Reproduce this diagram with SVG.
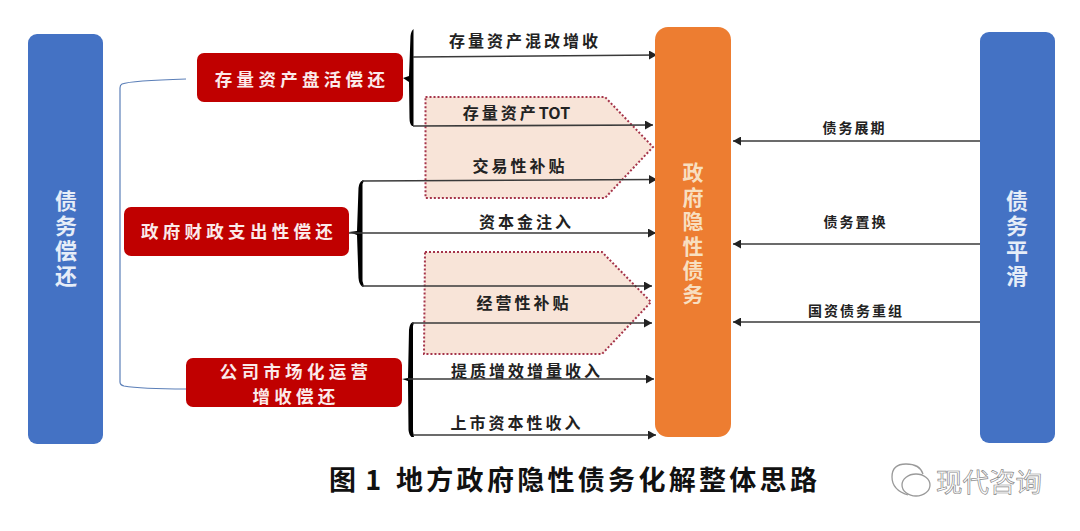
<svg xmlns="http://www.w3.org/2000/svg" width="1080" height="531" viewBox="0 0 1080 531">
<style>
text{font-family:"Noto Sans CJK SC","Noto Sans",sans-serif;font-weight:700}
.blue{fill:#4472c4}
.red{fill:#c00000}
.pent{fill:#f8e4d8;stroke:#a5344a;stroke-width:2;stroke-dasharray:2 2}
.wv{font-size:21px;fill:#f8dfc0;writing-mode:vertical-rl;letter-spacing:3.400px}
.wb{font-size:22px;fill:#e6edf8;writing-mode:vertical-rl;letter-spacing:2.800px}
.wr{font-size:17.500px;fill:#fbeaea;text-anchor:middle;letter-spacing:4.300px}
.lab{font-size:16px;fill:#222;text-anchor:middle;letter-spacing:3px}
.lab2{font-size:14px;fill:#222;text-anchor:middle;letter-spacing:2px}
.ln{stroke:#3a3a3a;stroke-width:1.6;fill:none;marker-end:url(#ah)}
.br{fill:#000;stroke:none}
</style>
<defs>
<marker id="ah" markerUnits="userSpaceOnUse" markerWidth="9" markerHeight="9" refX="8" refY="4.500" orient="auto"><path d="M0 0L8 4.500L0 9Z" fill="#222"/></marker>
</defs>
<rect width="1080" height="531" fill="#fff"/>
<g id="pentagons">
<path class="pent" d="M425.500 97H605L653 147L605 198H425.500Z"/>
<path class="pent" d="M425 252H602L651 302L602 354H424Z"/>
</g>
<g id="connectors">
<path d="M186 79C150 80 130 81 122 84Q120 85 120 88V382Q120 385 124 386C135 388 160 389 186 389" fill="none" stroke="#5b7fb8" stroke-width="1.200"/>
<path class="br" d="M403 78L409 76L410.500 36Q411 31 413.500 29V126H412Q409.500 124 409.500 118L409 82Z"/>
<path class="br" d="M349 232L357 231L358.500 188Q359 182 362.500 180.500H364L362.500 184V281L364 286.500H362Q359 284 358.500 278L357 235Z"/>
<path class="br" d="M402 379L408 378L409 330Q409.500 324 412 322.500H414L413 326V431L414 437H411.500Q409 435 408.500 430L408 381Z"/>
<path class="ln" d="M413 57L657 55"/>
<path class="ln" d="M413 126L653 125"/>
<path class="ln" d="M362 181L657 179.500"/>
<path class="ln" d="M349 233H656"/>
<path class="ln" d="M362 286H652"/>
<path class="ln" d="M412 323H652"/>
<path class="ln" d="M408 379H654"/>
<path class="ln" d="M413 435H656"/>
<path class="ln" d="M980 141H733"/>
<path class="ln" d="M980 244H733"/>
<path class="ln" d="M980 322H733"/>
</g>
<g id="node-left">
<rect class="blue" x="28" y="34" width="75" height="410" rx="9"/>
<text class="wb" x="66" y="190">债务偿还</text>
</g>
<g id="node-right">
<rect class="blue" x="980" y="32" width="75" height="411" rx="9"/>
<text class="wb" x="1017" y="190">债务平滑</text>
</g>
<g id="node-center">
<rect x="655" y="27" width="76" height="410" rx="13" fill="#ed7d31"/>
<text class="wv" x="693" y="162">政府隐性债务</text>
</g>
<g id="node-r1">
<rect class="red" x="197" y="53" width="206" height="49" rx="7"/>
<text class="wr" x="302" y="86">存量资产盘活偿还</text>
</g>
<g id="node-r2">
<rect class="red" x="124" y="207" width="225" height="49" rx="7"/>
<text class="wr" x="239" y="238">政府财政支出性偿还</text>
</g>
<g id="node-r3">
<rect class="red" x="186" y="358" width="216" height="49" rx="7"/>
<text class="wr" x="296" y="378">公司市场化运营</text>
<text class="wr" x="296" y="403">增收偿还</text>
</g>
<g id="labels">
<text class="lab" x="525" y="47">存量资产混改增收</text>
<text class="lab" x="516.500" y="119">存量资产<tspan letter-spacing="0">TOT</tspan></text>
<text class="lab" x="520" y="172">交易性补贴</text>
<text class="lab" x="526.500" y="228">资本金注入</text>
<text class="lab" x="524" y="309">经营性补贴</text>
<text class="lab" x="527" y="377">提质增效增量收入</text>
<text class="lab" x="517" y="429">上市资本性收入</text>
<text class="lab2" x="854.500" y="133">债务展期</text>
<text class="lab2" x="855.500" y="227">债务置换</text>
<text class="lab2" x="856" y="316">国资债务重组</text>
</g>
<g id="caption">
<text x="329" y="490" font-size="27" fill="#111" word-spacing="3">图 1</text>
<text x="396" y="490" font-size="27" fill="#111" letter-spacing="3.300">地方政府隐性债务化解整体思路</text>
</g>
<g id="watermark">
<path d="M908 495Q892 490 892 477Q892 464 906 464Q920 464 923 474" fill="#fff" stroke="#9a9a9a" stroke-width="1.300"/>
<ellipse cx="916" cy="485" rx="14" ry="11" fill="#fff" stroke="#9a9a9a" stroke-width="1.300"/>
<text x="936" y="492" font-size="26.500" fill="#fff" stroke="#8a8a8a" stroke-width=".7" style="font-weight:400">现代咨询</text>
</g>
</svg>
